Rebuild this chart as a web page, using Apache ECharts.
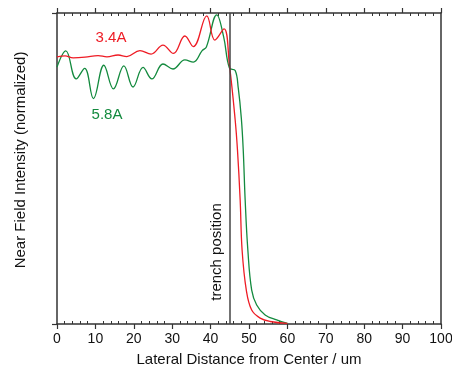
<!DOCTYPE html>
<html>
<head>
<meta charset="utf-8">
<script src="https://cdn.jsdelivr.net/npm/echarts@6/dist/echarts.min.js"></script>
<style>
  html, body { margin: 0; padding: 0; background: #fff; }
  #chart { width: 452px; height: 373px; }
</style>
</head>
<body>
<div id="chart"></div>
<script>
// lateral distance (um) and normalized intensity
const redX = [0, 2.1, 4.2, 7.3, 10.7, 13.0, 15.9, 18.2, 21.6, 24.5, 27.6, 30.3, 33.3, 35.5, 39.0, 41.1, 43.5, 44.9, 46.4, 47.0, 47.7, 48.2, 49.3, 50.7, 52.9, 55.5, 60];
const redY = [0.859, 0.862, 0.856, 0.858, 0.863, 0.859, 0.865, 0.860, 0.879, 0.868, 0.897, 0.870, 0.926, 0.892, 0.991, 0.913, 0.949, 0.833, 0.656, 0.559, 0.399, 0.238, 0.109, 0.045, 0.019, 0.008, 0.002];

const greenX = [0, 2.3, 5.0, 7.2, 9.5, 12.2, 14.7, 17.4, 19.8, 22.4, 24.7, 27.6, 30.2, 33.3, 35.5, 37.8, 38.9, 41.6, 43.4, 44.9, 46.4, 47.2, 48.0, 48.5, 49.0, 49.7, 50.7, 52.0, 54.2, 57.2, 60];
const greenY = [0.826, 0.878, 0.788, 0.822, 0.725, 0.832, 0.756, 0.830, 0.762, 0.825, 0.788, 0.836, 0.820, 0.849, 0.842, 0.879, 0.891, 0.994, 0.923, 0.823, 0.815, 0.759, 0.662, 0.559, 0.399, 0.238, 0.109, 0.061, 0.029, 0.013, 0.002];

const trenchX = 45;
const seriesNames = ["3.4A", "5.8A"];
const xTitle = "Lateral Distance from Center / um";
const yTitle = "Near Field Intensity (normalized)";

const RED = "#ee1c25";
const GREEN = "#138a3e";
const AXIS = "#333";
const FONT = "Liberation Sans, Arial, sans-serif";

const zip = (xs, ys) => xs.map((x, i) => [x, ys[i]]);

const chart = echarts.init(document.getElementById("chart"), null, { renderer: "canvas" });

const xBase = {
    type: "value",
    min: 0,
    max: 100,
    interval: 10,
    axisLine: { onZero: false, lineStyle: { color: AXIS, width: 1.5 } },
    axisTick: { length: 5, lineStyle: { color: AXIS, width: 1.2 } },
    minorTick: { show: true, splitNumber: 5, length: -3, lineStyle: { color: AXIS, width: 1 } },
    splitLine: { show: false },
};

chart.setOption({
    animation: false,
    textStyle: { fontFamily: FONT },
    grid: { left: 57, right: 11, top: 13, bottom: 49, outerBoundsMode: "none", containLabel: false },
    xAxis: [
        {
            ...xBase,
            position: "bottom",
            name: xTitle,
            nameLocation: "middle",
            nameGap: 28,
            nameTextStyle: { fontSize: 15, color: "#111", fontFamily: FONT },
            axisLabel: { fontSize: 14, color: "#111", margin: 8, fontFamily: FONT },
        },
        {
            ...xBase,
            position: "top",
            axisLabel: { show: false },
        },
    ],
    yAxis: [
        {
            type: "value",
            min: 0,
            max: 1,
            interval: 1,
            position: "left",
            axisLine: { show: true, onZero: false, lineStyle: { color: AXIS, width: 1.5 } },
            axisTick: { show: true, length: 5, lineStyle: { color: AXIS, width: 1.2 } },
            axisLabel: { show: false },
            splitLine: { show: false },
        },
        {
            type: "value",
            min: 0,
            max: 1,
            position: "right",
            axisLine: { show: true, onZero: false, lineStyle: { color: AXIS, width: 1.5 } },
            axisTick: { show: false },
            axisLabel: { show: false },
            splitLine: { show: false },
        },
    ],
    graphic: [
        {
            type: "text",
            x: 21, y: 160,
            rotation: Math.PI / 2,
            style: { text: yTitle, fill: "#111", font: "15px " + FONT, textAlign: "center", textVerticalAlign: "middle" },
        },
        {
            type: "text",
            x: 217, y: 252,
            rotation: Math.PI / 2,
            style: { text: "trench position", fill: "#111", font: "15px " + FONT, textAlign: "center", textVerticalAlign: "middle" },
        },
        {
            type: "text",
            x: 111, y: 38,
            style: { text: seriesNames[0], fill: RED, font: "15px " + FONT, textAlign: "center", textVerticalAlign: "middle" },
        },
        {
            type: "text",
            x: 107, y: 115,
            style: { text: seriesNames[1], fill: GREEN, font: "15px " + FONT, textAlign: "center", textVerticalAlign: "middle" },
        },
    ],
    series: [
        {
            name: seriesNames[1],
            type: "line",
            data: zip(greenX, greenY),
            showSymbol: false,
            smooth: 0.4,
            lineStyle: { color: GREEN, width: 1.3 },
            itemStyle: { color: GREEN },
            z: 2,
        },
        {
            name: seriesNames[0],
            type: "line",
            data: zip(redX, redY),
            showSymbol: false,
            smooth: 0.4,
            lineStyle: { color: RED, width: 1.3 },
            itemStyle: { color: RED },
            z: 3,
            markLine: {
                silent: true,
                symbol: "none",
                label: { show: false },
                lineStyle: { color: "#444", width: 1.5, type: "solid" },
                data: [{ xAxis: trenchX }],
            },
        },
    ],
});
</script>
</body>
</html>
